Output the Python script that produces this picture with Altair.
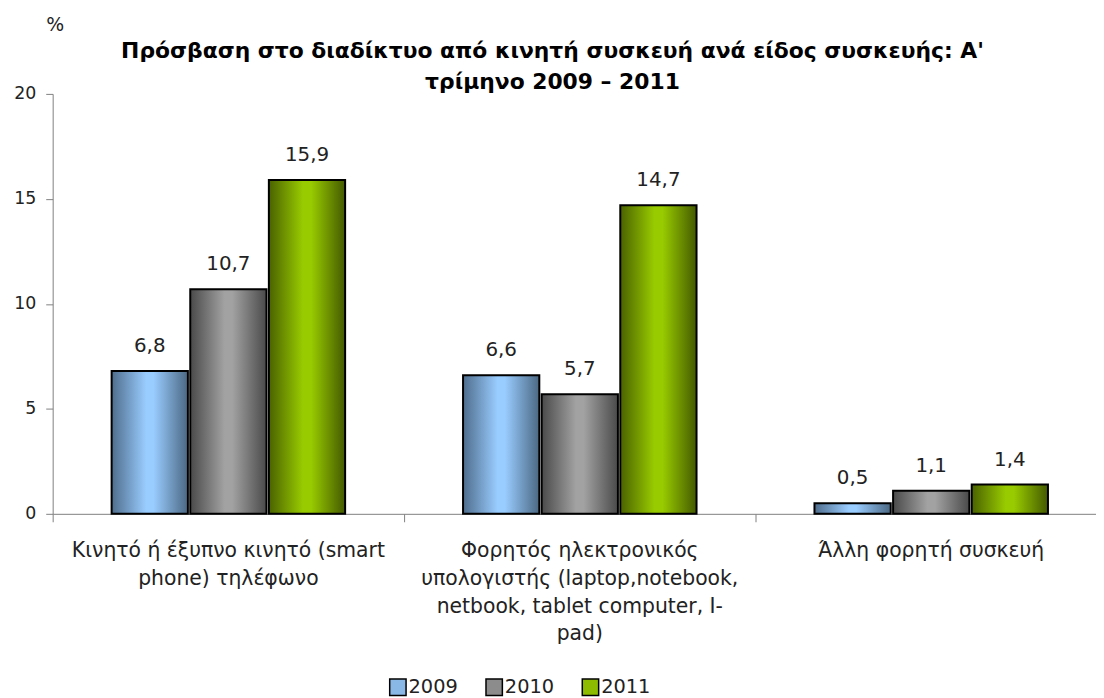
import altair as alt
import pandas as pd

categories = [
    "Κινητό ή έξυπνο κινητό (smart phone) τηλέφωνο",
    "Φορητός ηλεκτρονικός υπολογιστής (laptop,notebook, netbook, tablet computer, I-pad)",
    "Άλλη φορητή συσκευή",
]
wrapped = [
    ["Κινητό ή έξυπνο κινητό (smart", "phone) τηλέφωνο"],
    ["Φορητός ηλεκτρονικός", "υπολογιστής (laptop,notebook,", "netbook, tablet computer, I-", "pad)"],
    ["Άλλη φορητή συσκευή"],
]
years = ["2009", "2010", "2011"]
v2009 = [6.8, 6.6, 0.5]
v2010 = [10.7, 5.7, 1.1]
v2011 = [15.9, 14.7, 1.4]

rows = []
for yr, vals in zip(years, [v2009, v2010, v2011]):
    for c, v in zip(categories, vals):
        rows.append({"cat": c, "year": yr, "value": v})
df = pd.DataFrame(rows)

FONT = "DejaVu Sans"

def arr(lines):
    return "[" + ",".join("'" + l + "'" for l in lines) + "]"

label_expr = (
    f"datum.label == '{categories[0]}' ? {arr(wrapped[0])} : "
    f"datum.label == '{categories[1]}' ? {arr(wrapped[1])} : {arr(wrapped[2])}"
)

def grad(edge_l, mid, edge_r):
    return alt.Gradient(
        gradient="linear",
        x1=0, x2=1, y1=0, y2=0,
        stops=[
            alt.GradientStop(offset=0, color=edge_l),
            alt.GradientStop(offset=0.45, color=mid),
            alt.GradientStop(offset=0.55, color=mid),
            alt.GradientStop(offset=1, color=edge_r),
        ],
    )

fills = {
    "2009": grad("#4f6d8c", "#99ccff", "#4b6883"),
    "2010": grad("#4a4a4a", "#a2a2a2", "#4a4a4a"),
    "2011": grad("#4a6200", "#99cc00", "#445a00"),
}
legend_colors = ["#8ab8e6", "#8c8c8c", "#8cbb00"]

x_enc = alt.X(
    "cat:N",
    sort=categories,
    scale=alt.Scale(range=[0, 1062], paddingInner=0, paddingOuter=0),
    axis=alt.Axis(
        title=None,
        labelAngle=0,
        labelExpr=label_expr,
        labelFont=FONT,
        labelFontSize=20.5,
        labelColor="#222222",
        labelLineHeight=28,
        labelBaseline="top",
        labelPadding=19,
        labelLimit=400,
        bandPosition=0,
        tickSize=8,
        tickColor="#808080",
        domainColor="#808080",
    ),
)
xoff = alt.XOffset(
    "year:N",
    sort=years,
    scale=alt.Scale(domain=years, paddingInner=0.03, paddingOuter=0.75),
)
y_enc = alt.Y(
    "value:Q",
    scale=alt.Scale(domain=[0, 20]),
    axis=alt.Axis(
        title="%",
        titleAngle=0,
        titleX=2,
        titleY=-60,
        titleAlign="center",
        titleFont=FONT,
        titleFontSize=19,
        titleFontWeight="normal",
        titleColor="#222222",
        values=[0, 5, 10, 15, 20],
        grid=False,
        labelFont=FONT,
        labelFontSize=17.5,
        labelColor="#222222",
        labelPadding=10,
        tickSize=7,
        tickColor="#808080",
        domainColor="#808080",
    ),
)

base = alt.Chart(df)
layers = []
for yr in years:
    layers.append(
        base.transform_filter(alt.datum.year == yr)
        .mark_bar(fill=fills[yr], stroke="black", strokeWidth=2)
        .encode(x=x_enc, xOffset=xoff, y=y_enc)
    )

legend_layer = base.mark_square(opacity=0, size=1).encode(
    x=x_enc,
    xOffset=xoff,
    y=y_enc,
    color=alt.Color(
        "year:N",
        sort=years,
        scale=alt.Scale(domain=years, range=legend_colors),
        legend=alt.Legend(
            title=None,
            orient="none",
            direction="horizontal",
            legendX=338,
            legendY=588,
            symbolType="square",
            symbolSize=272,
            symbolOpacity=1,
            symbolStrokeColor="black",
            symbolStrokeWidth=1.5,
            labelFont=FONT,
            labelFontSize=19.5,
            labelColor="#222222",
            labelOffset=1,
            columnPadding=24,
        ),
    ),
)

text_layer = base.transform_calculate(
    lbl="replace(format(datum.value, '.1f'), '.', ',')"
).mark_text(
    font=FONT, fontSize=20, color="#222222", baseline="bottom", dy=-15
).encode(x=x_enc, xOffset=xoff, y=y_enc, text="lbl:N")

chart = alt.layer(*layers, text_layer, legend_layer).properties(
    width=1051,
    height=423,
    padding={"left": 45, "top": 84, "right": 0, "bottom": 183},
    autosize=alt.AutoSizeParams(type="none"),
    title=alt.Title(
        ["Πρόσβαση στο διαδίκτυο από κινητή συσκευή ανά είδος συσκευής: Α'", "τρίμηνο 2009 – 2011"],
        font=FONT,
        fontSize=22,
        fontWeight="bold",
        color="black",
        anchor="middle",
        frame="group",
        dx=-22,
        dy=87,
        offset=8,
        lineHeight=31,
    ),
).configure_view(stroke=None)

chart.save("out.html", embed_options={"renderer": "svg", "actions": False})
